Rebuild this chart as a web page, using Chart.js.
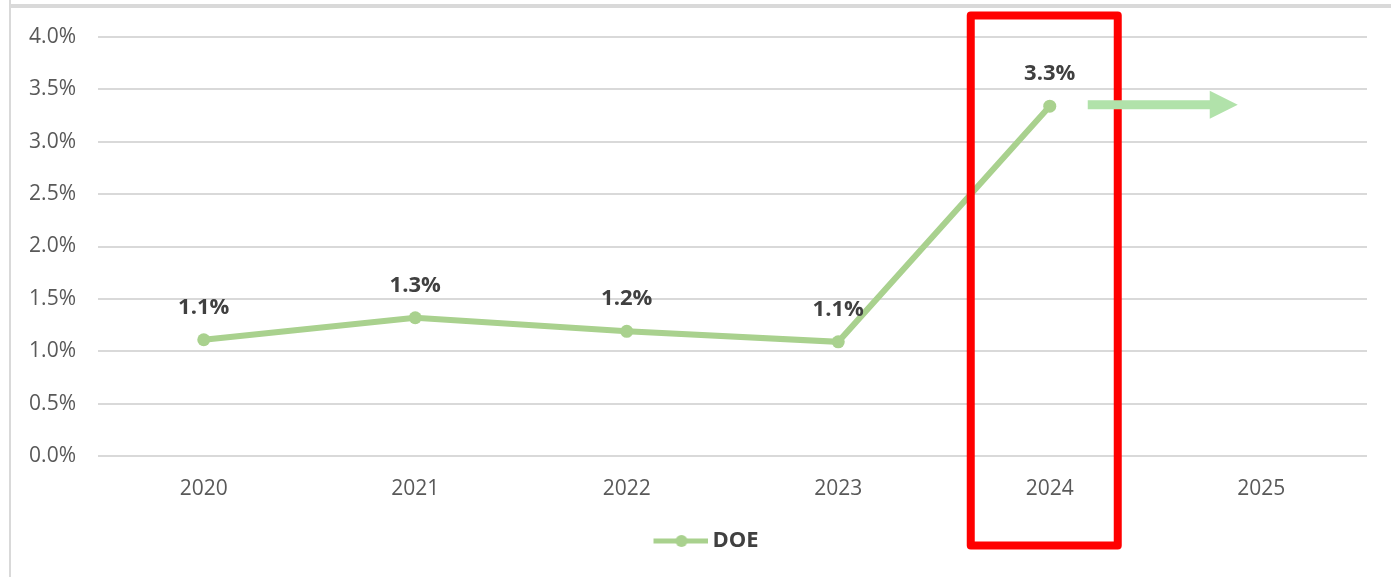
<!DOCTYPE html>
<html>
<head>
<meta charset="utf-8">
<script src="https://cdn.jsdelivr.net/npm/chart.js@4.4.0/dist/chart.umd.min.js"></script>
<style>
  html, body { margin: 0; padding: 0; background: #fff; }
</style>
</head>
<body>
<canvas id="chart-doe" width="1391" height="577"></canvas>
<script>
// datos del grafico
const anios = ["2020", "2021", "2022", "2023", "2024", "2025"];
const valoresDoe = [1.11, 1.32, 1.19, 1.09, 3.34, null];
const ticksY = [0, 0.5, 1, 1.5, 2, 2.5, 3, 3.5, 4];
const nombreSerie = "DOE";

const verde = "#a9d18e";
const fuente = "'Open Sans', 'Noto Sans', sans-serif";

// icono de la leyenda: linea con punto (con margen vacio a la izquierda)
const iconoLeyenda = document.createElement("canvas");
iconoLeyenda.width = 95;
iconoLeyenda.height = 14;
const ic = iconoLeyenda.getContext("2d");
ic.strokeStyle = verde;
ic.lineWidth = 5;
ic.beginPath();
ic.moveTo(40, 7);
ic.lineTo(95, 7);
ic.stroke();
ic.fillStyle = verde;
ic.beginPath();
ic.arc(68, 7, 6, 0, Math.PI * 2);
ic.fill();

// marco gris de fondo
const pluginMarco = {
  id: "marco",
  beforeDraw(chart) {
    const ctx = chart.ctx;
    ctx.save();
    ctx.fillStyle = "#fff";
    ctx.fillRect(0, 0, chart.width, chart.height);
    ctx.fillStyle = "#d9d9d9";
    ctx.fillRect(9, 4, chart.width - 9, 4);
    ctx.fillRect(9, 0, 2, chart.height);
    ctx.restore();
  },
};

// etiquetas de valor sobre los puntos
const pluginEtiquetas = {
  id: "etiquetas",
  afterDatasetsDraw(chart) {
    const ctx = chart.ctx;
    const meta = chart.getDatasetMeta(0);
    ctx.save();
    ctx.font = "bold 22px " + fuente;
    ctx.fillStyle = "#404040";
    ctx.textAlign = "center";
    ctx.textBaseline = "alphabetic";
    meta.data.forEach((pt, i) => {
      const v = valoresDoe[i];
      if (v === null || v === undefined) return;
      ctx.fillText(v.toFixed(1) + "%", pt.x, pt.y - 26);
    });
    ctx.restore();
  },
};

// recuadro rojo y flecha en 2024
const pluginResaltado = {
  id: "resaltado",
  afterDraw(chart) {
    const ctx = chart.ctx;
    const area = chart.chartArea;
    const cx = chart.scales.x.getPixelForValue(4);
    ctx.save();
    ctx.strokeStyle = "#ff0000";
    ctx.lineWidth = 8;
    ctx.lineJoin = "round";
    ctx.strokeRect(cx - 79, area.top - 21.5, 147, area.bottom - area.top + 111);

    const pt = chart.getDatasetMeta(0).data[4];
    const y = pt.y - 1.5;
    ctx.fillStyle = "#b1e2aa";
    ctx.beginPath();
    ctx.moveTo(pt.x + 38, y - 4.5);
    ctx.lineTo(pt.x + 160, y - 4.5);
    ctx.lineTo(pt.x + 160, y - 14);
    ctx.lineTo(pt.x + 188, y);
    ctx.lineTo(pt.x + 160, y + 14);
    ctx.lineTo(pt.x + 160, y + 4.5);
    ctx.lineTo(pt.x + 38, y + 4.5);
    ctx.closePath();
    ctx.fill();
    ctx.restore();
  },
};

const contenedor = document.querySelector("#chart-doe").getContext("2d");

const chartDoe = new Chart(contenedor, {
  type: "line",
  data: {
    labels: anios,
    datasets: [
      {
        label: nombreSerie,
        data: valoresDoe,
        borderColor: verde,
        backgroundColor: verde,
        borderWidth: 6,
        pointRadius: 6.5,
        pointBorderWidth: 0,
        pointBackgroundColor: verde,
        pointStyle: "circle",
        tension: 0,
      },
    ],
  },
  options: {
    responsive: false,
    animation: false,
    layout: {
      padding: { left: 12, right: 24, top: 37, bottom: 15 },
    },
    scales: {
      x: {
        type: "category",
        offset: true,
        grid: { display: false, drawTicks: false },
        border: { display: false },
        ticks: {
          color: "#595959",
          font: { family: fuente, size: 21 },
          padding: 20,
        },
        afterFit(s) {
          s.height = 56;
        },
      },
      y: {
        min: 0,
        max: 4,
        grid: { color: "#d9d9d9", lineWidth: 2, drawTicks: false },
        border: { display: false },
        ticks: {
          color: "#595959",
          font: { family: fuente, size: 21 },
          padding: 22,
          callback: (v) => v.toFixed(1) + "%",
        },
        afterBuildTicks(s) {
          s.ticks = ticksY.map((v) => ({ value: v }));
        },
        afterFit(s) {
          s.width = 86;
        },
      },
    },
    plugins: {
      legend: {
        display: true,
        position: "bottom",
        labels: {
          usePointStyle: true,
          pointStyle: iconoLeyenda,
          pointStyleWidth: 81,
          padding: 18,
          color: "#404040",
          font: { family: fuente, size: 22, weight: "bold" },
          generateLabels: (chart) => [
            {
              text: nombreSerie,
              pointStyle: iconoLeyenda,
              fillStyle: verde,
              strokeStyle: verde,
              lineWidth: 0,
              fontColor: "#404040",
              datasetIndex: 0,
            },
          ],
        },
      },
      tooltip: { enabled: false },
    },
  },
  plugins: [pluginMarco, pluginEtiquetas, pluginResaltado],
});
</script>
</body>
</html>
